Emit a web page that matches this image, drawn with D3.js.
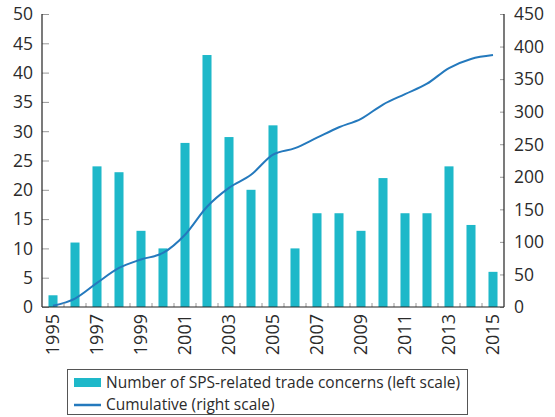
<!DOCTYPE html>
<html>
<head>
<meta charset="utf-8">
<script src="https://cdn.jsdelivr.net/npm/d3@7"></script>
<style>
  body { margin: 0; background: #fff; }
  text { font-family: "Open Sans", "Noto Sans", sans-serif; fill: #2b2b2b; }
</style>
</head>
<body>
<svg id="chart" width="555" height="417"></svg>
<script>
// data
var years = ["1995","1996","1997","1998","1999","2000","2001","2002","2003","2004","2005",
             "2006","2007","2008","2009","2010","2011","2012","2013","2014","2015"];
var concerns = [2, 11, 24, 23, 13, 10, 28, 43, 29, 20, 31, 10, 16, 16, 13, 22, 16, 16, 24, 14, 6];
var cumulative = [2, 13, 37, 60, 73, 83, 111, 154, 183, 203, 234, 244, 260, 276, 289, 311, 327, 343, 367, 381, 387];
var leftTicks = [0, 5, 10, 15, 20, 25, 30, 35, 40, 45, 50];
var rightTicks = [0, 50, 100, 150, 200, 250, 300, 350, 400, 450];
var xLabels = ["1995","1997","1999","2001","2003","2005","2007","2009","2011","2013","2015"];
var legendLabels = ["Number of SPS-related trade concerns (left scale)", "Cumulative (right scale)"];

const BAR_COLOR = "#1eb8c9";
const LINE_COLOR = "#2479bd";

var margin = {left: 42, right: 51, top: 14, bottom: 110};
var svg = d3.select("#chart");
var W = +svg.attr("width"), H = +svg.attr("height");
var x0 = margin.left, x1 = W - margin.right;
var y0 = H - margin.bottom, y1 = margin.top;

var x = d3.scaleBand().domain(years).range([x0, x1]).paddingInner(0.59).paddingOuter(0.295);
var yL = d3.scaleLinear().domain([0, 50]).range([y0, y1]);
var yR = d3.scaleLinear().domain([0, 450]).range([y0, y1]);

// bars
svg.append("g").selectAll("rect")
  .data(concerns)
  .join("rect")
  .attr("x", (d, i) => x(years[i]))
  .attr("width", x.bandwidth())
  .attr("y", d => yL(d))
  .attr("height", d => yL(0) - yL(d))
  .attr("fill", BAR_COLOR);

// cumulative line
var line = d3.line()
  .x((d, i) => x(years[i]) + x.bandwidth() / 2)
  .y(d => yR(d))
  .curve(d3.curveMonotoneX);
svg.append("path")
  .datum(cumulative)
  .attr("d", line)
  .attr("fill", "none")
  .attr("stroke", LINE_COLOR)
  .attr("stroke-width", 2);

// left axis
var gL = svg.append("g").attr("transform", "translate(" + x0 + ",0)")
  .call(d3.axisRight(yL).tickValues(leftTicks).tickSize(7).tickFormat(""));
gL.select(".domain").remove();
gL.selectAll(".tick line").attr("stroke", "#999");
gL.append("line").attr("y1", y1).attr("y2", y0).attr("stroke", "#222").attr("stroke-width", 1.2);
svg.append("g").selectAll("text").data(leftTicks).join("text")
  .attr("x", x0 - 9).attr("y", d => yL(d)).attr("dy", "0.36em")
  .attr("text-anchor", "end").style("font-size", "17.5px")
  .text(d => d);

// right axis
var gR = svg.append("g").attr("transform", "translate(" + x1 + ",0)")
  .call(d3.axisLeft(yR).tickValues(rightTicks).tickSize(4).tickFormat(""));
gR.select(".domain").remove();
gR.selectAll(".tick line").attr("stroke", "#999");
gR.append("line").attr("y1", y1).attr("y2", y0).attr("stroke", "#222").attr("stroke-width", 1.2);
svg.append("g").selectAll("text").data(rightTicks).join("text")
  .attr("x", x1 + 10).attr("y", d => yR(d)).attr("dy", "0.36em")
  .attr("text-anchor", "start").style("font-size", "17.5px")
  .text(d => d);

// bottom axis: small ticks between the bars
var bounds = years.slice(1).map(d => x(d) - x.step() * x.paddingInner() / 2);
svg.append("g").selectAll("line").data(bounds).join("line")
  .attr("x1", d => d).attr("x2", d => d)
  .attr("y1", y0).attr("y2", y0 - 4)
  .attr("stroke", "#999");
svg.append("line").attr("x1", x0).attr("x2", x1).attr("y1", y0).attr("y2", y0)
  .attr("stroke", "#222").attr("stroke-width", 1.2);
svg.append("g").selectAll("text").data(xLabels).join("text")
  .attr("transform", d => "translate(" + (x(d) + x.bandwidth() / 2) + "," + (y0 + 7) + ") rotate(-90)")
  .attr("dy", "0.36em").attr("text-anchor", "end").style("font-size", "18px")
  .text(d => d);

// legend
var lg = svg.append("g");
lg.append("rect").attr("x", 67.5).attr("y", 369.5).attr("width", 400).attr("height", 45)
  .attr("fill", "#fff").attr("stroke", "#555").attr("stroke-width", 1);
lg.append("rect").attr("x", 74).attr("y", 378).attr("width", 27).attr("height", 9).attr("fill", BAR_COLOR);
lg.append("line").attr("x1", 74).attr("x2", 101).attr("y1", 405).attr("y2", 405)
  .attr("stroke", LINE_COLOR).attr("stroke-width", 2.5);
lg.selectAll("text").data(legendLabels).join("text")
  .attr("x", 106).attr("y", (d, i) => 382.5 + i * 22).attr("dy", "0.36em")
  .style("font-size", "15.5px")
  .text(d => d);
</script>
</body>
</html>
